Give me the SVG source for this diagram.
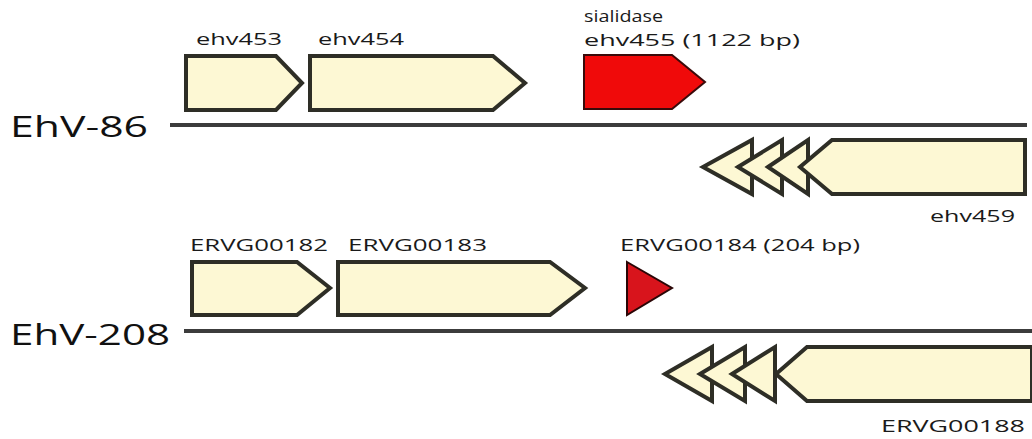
<svg xmlns="http://www.w3.org/2000/svg" width="1032" height="439" viewBox="0 0 1032 439">
<style>
.g{fill:#fdf8d4;stroke:#2e2e26;stroke-width:4;stroke-linejoin:miter}
.r{fill:#f00a0a;stroke:#3a0a0a;stroke-width:2}
.r2{fill:#d8141c;stroke:#2a0606;stroke-width:2}
.t{font-family:"Open Sans",sans-serif;font-size:17px;fill:#1a1a1a}
.big{font-family:"Open Sans",sans-serif;font-size:29px;fill:#111}
.ln{stroke:#3c3c3c;stroke-width:4}
</style>
<rect width="1032" height="439" fill="#fff"/>
<g id="connectors">
<line class="ln" x1="170" y1="125" x2="1027" y2="125"/>
<line class="ln" x1="184" y1="331" x2="1032" y2="331"/>
</g>
<g id="label-ehv86"><text class="big" x="10" y="137" textLength="138" lengthAdjust="spacingAndGlyphs">EhV-86</text></g>
<g id="label-ehv208"><text class="big" x="10" y="345" textLength="160" lengthAdjust="spacingAndGlyphs">EhV-208</text></g>
<g id="ehv453">
<polygon class="g" points="186,56 276,56 302,83 276,110 186,110"/>
<text class="t" x="196" y="45" textLength="86" lengthAdjust="spacingAndGlyphs">ehv453</text>
</g>
<g id="ehv454">
<polygon class="g" points="310,56 493,56 525,83 493,110 310,110"/>
<text class="t" x="318" y="45" textLength="86" lengthAdjust="spacingAndGlyphs">ehv454</text>
</g>
<g id="ehv455">
<polygon class="r" points="584,55 672,55 705,82 672,109 584,109"/>
<text class="t" x="584" y="22" textLength="79" lengthAdjust="spacingAndGlyphs">sialidase</text>
<text class="t" x="584" y="46" textLength="216" lengthAdjust="spacingAndGlyphs">ehv455 (1122 bp)</text>
</g>
<g id="ehv459">
<polygon class="g" points="703,167 752,140 752,194"/>
<polygon class="g" points="738,167 782,140 782,194"/>
<polygon class="g" points="768,167 808,140 808,194"/>
<polygon class="g" points="1025,140 832,140 800,167 832,194 1025,194"/>
<text class="t" x="930" y="222" textLength="85" lengthAdjust="spacingAndGlyphs">ehv459</text>
</g>
<g id="ERVG00182">
<polygon class="g" points="192,262 297,262 330,288 297,315 192,315"/>
<text class="t" x="190" y="251" textLength="138" lengthAdjust="spacingAndGlyphs">ERVG00182</text>
</g>
<g id="ERVG00183">
<polygon class="g" points="338,262 550,262 585,288 550,315 338,315"/>
<text class="t" x="348" y="251" textLength="139" lengthAdjust="spacingAndGlyphs">ERVG00183</text>
</g>
<g id="ERVG00184">
<polygon class="r2" points="627,262 672,288 627,315"/>
<text class="t" x="620" y="251" textLength="240" lengthAdjust="spacingAndGlyphs">ERVG00184 (204 bp)</text>
</g>
<g id="ERVG00188">
<polygon class="g" points="665,374 712,347 712,401"/>
<polygon class="g" points="700,374 745,347 745,401"/>
<polygon class="g" points="732,374 775,347 775,401"/>
<polygon class="g" points="1032,347 807,347 776,374 807,401 1032,401"/>
<text class="t" x="881" y="432" textLength="144" lengthAdjust="spacingAndGlyphs">ERVG00188</text>
</g>
</svg>
